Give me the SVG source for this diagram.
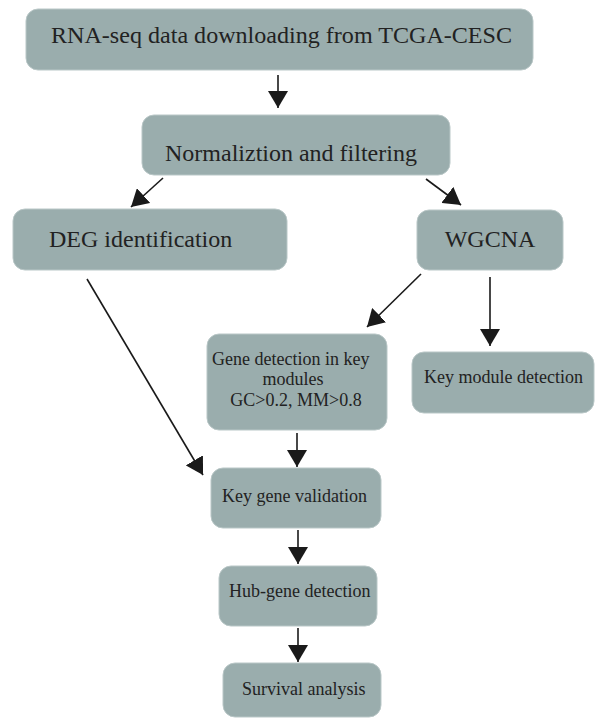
<svg xmlns="http://www.w3.org/2000/svg" width="595" height="719" viewBox="0 0 595 719">
<style>
.box{fill:#9aadad;stroke:#b9c7c7;stroke-width:1}
.t{font-family:"Liberation Serif","Times New Roman",serif;fill:#222;}
.l{font-size:24px}
.s{font-size:18px}
.c{stroke:#1a1a1a;stroke-width:1.6;fill:none;marker-end:url(#ah)}
</style>
<defs>
<marker id="ah" markerUnits="userSpaceOnUse" viewBox="0 0 17 20" refX="17" refY="10" markerWidth="17" markerHeight="20" orient="auto">
<path d="M0,0 L17,10 L0,20 z" fill="#1a1a1a"/>
</marker>
</defs>
<rect width="595" height="719" fill="#fff"/>
<g id="connectors">
<line class="c" x1="278" y1="75" x2="278" y2="108"/>
<line class="c" x1="163" y1="178" x2="131" y2="207"/>
<line class="c" x1="426" y1="179" x2="461" y2="205"/>
<line class="c" x1="421" y1="274" x2="367" y2="327"/>
<line class="c" x1="490" y1="277" x2="490" y2="346"/>
<line class="c" x1="87" y1="279" x2="203" y2="475"/>
<line class="c" x1="297" y1="433" x2="297" y2="467"/>
<line class="c" x1="298" y1="530" x2="298" y2="564"/>
<line class="c" x1="298" y1="628" x2="298" y2="662"/>
</g>
<g id="n1"><rect class="box" x="26" y="9" width="507" height="61" rx="12"/><text class="t l" x="51" y="43" textLength="461" lengthAdjust="spacingAndGlyphs">RNA-seq data downloading from TCGA-CESC</text></g>
<g id="n2"><rect class="box" x="142" y="115" width="308" height="60" rx="12"/><text class="t l" x="165" y="161">Normaliztion and filtering</text></g>
<g id="n3"><rect class="box" x="13" y="209" width="274" height="61" rx="12"/><text class="t l" x="49" y="247">DEG identification</text></g>
<g id="n4"><rect class="box" x="417" y="210" width="146" height="60" rx="12"/><text class="t l" x="490" y="247" text-anchor="middle">WGCNA</text></g>
<g id="n5"><rect class="box" x="207" y="334" width="180" height="96" rx="12"/>
<text class="t s" x="212" y="365">Gene detection in key</text>
<text class="t s" x="293" y="385" text-anchor="middle">modules</text>
<text class="t s" x="296" y="406" text-anchor="middle">GC&gt;0.2, MM&gt;0.8</text></g>
<g id="n6"><rect class="box" x="412" y="352" width="182" height="61" rx="12"/><text class="t s" x="424" y="383">Key module detection</text></g>
<g id="n7"><rect class="box" x="211" y="468" width="170" height="60" rx="12"/><text class="t s" x="222" y="502">Key gene validation</text></g>
<g id="n8"><rect class="box" x="219" y="566" width="158" height="60" rx="12"/><text class="t s" x="229" y="597">Hub-gene detection</text></g>
<g id="n9"><rect class="box" x="223" y="663" width="158" height="54" rx="12"/><text class="t s" x="242" y="695">Survival analysis</text></g>
</svg>
